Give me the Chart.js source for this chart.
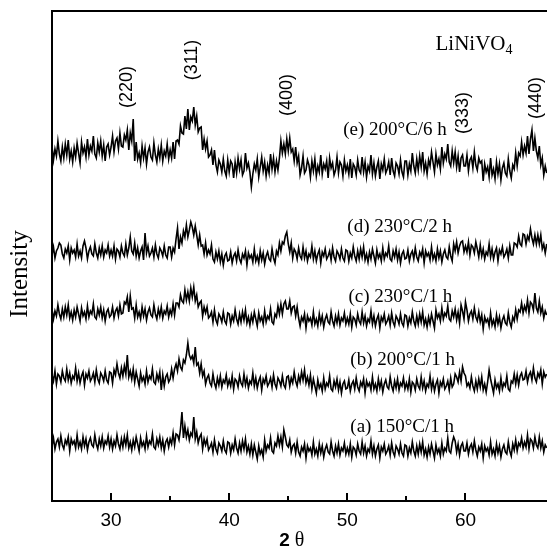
<!DOCTYPE html>
<html>
<head>
<meta charset="utf-8">
<script src="https://cdn.jsdelivr.net/npm/chart.js@4.4.1/dist/chart.umd.min.js"></script>
<style>
  html, body { margin: 0; padding: 0; background: #fff; overflow: hidden; }
  #wrap { width: 547px; height: 548px; position: relative; }
</style>
</head>
<body>
<div id="wrap"><canvas id="xrdChart"></canvas></div>
<script>
// 2θ sampling grid (degrees)
const THETA_START = 25;
const THETA_STEP = 0.125;

const X_TICKS = [30, 40, 50, 60];
const X_MINOR = [35, 45, 55];

// intensities (a.u., patterns stacked), one line = 2.5°
const patternE = [
  355,341,352,345,360,347,340,354,343,357,346,361,342,350,339,353,344,358,348,338,
  359,348,354,344,362,346,355,350,365,347,343,358,349,360,345,356,340,354,357,346,
  354,365,349,360,363,352,368,355,354,366,361,371,351,368,360,382,340,359,342,348,
  338,355,343,353,337,349,354,344,341,358,346,339,352,343,356,340,350,345,357,342,
  351,343,359,342,360,361,357,375,368,367,385,372,392,371,384,380,394,376,385,369,
  373,374,351,362,352,360,344,346,351,336,351,336,329,341,337,329,342,330,325,341,
  329,340,337,323,339,328,343,332,341,326,330,348,333,338,329,314,327,337,331,342,
  324,334,344,330,339,325,336,328,347,332,343,329,340,331,343,360,348,357,347,362,
  350,363,349,352,340,354,338,345,326,333,345,328,331,341,336,324,340,330,342,325,
  335,329,346,327,337,332,340,323,343,333,338,326,331,344,328,339,336,325,341,330,
  336,327,342,323,337,334,326,341,331,328,344,329,339,324,335,330,346,327,338,325,
  334,340,322,337,331,342,328,332,339,326,343,330,325,338,335,327,341,329,324,340,
  340,326,337,330,348,335,328,342,331,345,334,349,330,338,327,341,335,349,339,329,
  347,336,342,332,354,338,347,342,357,339,335,350,338,349,334,345,329,343,346,335,
  335,346,330,341,344,333,349,336,331,343,338,340,320,337,329,334,324,343,326,332,
  322,339,327,337,321,333,338,328,325,342,330,323,336,332,348,335,348,345,359,346,
  355,348,365,347,362,371,350,363,350,343,355,336,343,326,335,328
];
const patternD = [
  246,254,243,250,253,258,256,247,243,252,248,255,241,253,248,251,244,257,245,250,
  243,255,260,253,242,250,254,247,245,257,248,243,253,246,255,244,251,248,256,245,
  251,245,255,242,252,250,244,255,248,245,257,246,253,264,250,247,258,245,253,243,
  250,254,241,268,248,255,245,248,253,244,256,247,243,253,250,245,255,246,243,254,
  254,244,253,249,262,273,252,264,258,270,264,276,264,271,279,274,266,275,266,256,
  266,255,256,247,258,246,251,247,256,242,239,249,242,250,239,247,236,245,248,240,
  241,249,238,245,248,240,251,242,238,247,243,250,236,248,243,246,239,252,240,245,
  238,250,241,248,237,245,249,242,240,252,243,238,250,246,258,250,259,257,265,269,
  257,249,258,243,252,249,242,253,245,242,254,243,250,240,247,244,255,242,250,240,
  247,251,238,249,245,252,242,245,250,241,253,244,240,250,247,242,252,243,240,251,
  250,240,248,243,254,245,240,250,242,252,244,254,241,247,239,249,242,252,245,238,
  251,243,247,240,253,242,248,245,255,242,240,250,244,252,241,249,238,247,250,242,
  243,251,240,247,250,242,253,244,240,249,245,252,238,250,245,248,241,254,242,247,
  240,252,243,250,239,247,251,244,242,254,245,240,257,250,259,248,255,259,260,249,
  255,249,259,246,256,254,248,259,252,244,256,245,252,242,249,246,257,244,252,242,
  249,253,240,251,247,254,244,247,252,243,255,246,246,258,257,254,265,257,255,267,
  266,257,265,261,272,263,257,266,257,266,257,266,252,257,248,257
];
const patternC = [
  192,182,190,185,196,187,182,192,184,194,186,196,183,189,181,191,184,194,187,180,
  193,185,189,182,195,184,190,187,197,184,182,192,186,194,183,191,180,189,192,184,
  186,194,183,190,193,185,196,187,188,199,197,204,189,205,192,193,183,196,184,189,
  182,194,185,192,181,189,193,186,184,196,187,182,192,185,194,183,190,187,195,184,
  191,186,197,186,198,198,194,206,200,198,211,201,209,200,213,204,214,200,206,194,
  198,200,185,194,188,194,183,185,189,179,191,181,177,187,184,179,189,180,177,188,
  187,177,185,180,191,182,177,187,179,189,181,191,178,184,176,186,179,189,182,175,
  188,180,184,177,190,179,185,182,192,179,177,187,184,195,187,197,187,197,200,192,
  192,200,188,194,195,185,194,183,175,184,180,187,173,185,180,183,176,189,177,182,
  175,187,178,185,174,182,186,179,177,189,180,175,185,178,187,176,183,180,188,177,
  183,177,187,174,184,182,176,187,180,177,189,178,185,175,182,179,190,177,185,175,
  182,186,173,184,180,187,177,180,185,176,188,179,175,185,182,177,187,178,175,186,
  185,175,183,178,189,180,175,185,177,187,179,189,176,182,174,184,177,187,180,173,
  191,183,187,180,193,182,188,185,195,182,180,190,184,192,181,189,178,196,190,182,
  199,191,180,187,190,182,193,184,180,189,179,186,172,184,179,182,175,188,176,181,
  174,186,177,184,173,181,185,178,176,188,179,174,184,180,191,182,191,189,198,188,
  195,190,201,188,199,197,191,208,193,189,200,188,194,183,190,186
];
const patternB = [
  126,120,130,117,127,125,119,130,123,120,132,121,128,118,125,122,133,120,128,118,
  125,129,116,127,123,130,120,123,128,119,131,122,118,128,125,120,130,121,118,129,
  128,118,131,126,137,128,123,133,125,135,127,146,124,130,122,132,119,129,122,115,
  128,120,124,117,130,119,125,122,132,119,117,127,121,129,111,126,115,124,127,119,
  122,132,123,132,137,130,142,134,131,141,138,146,158,146,142,145,138,154,136,138,
  128,137,125,130,117,123,126,118,115,127,118,113,123,116,125,114,121,118,126,115,
  121,115,125,112,122,120,114,125,118,115,127,116,123,113,120,117,128,115,123,113,
  120,124,111,122,118,125,115,118,123,114,126,117,113,123,120,115,125,116,113,124,
  125,115,123,118,129,120,115,125,119,129,121,131,118,124,116,126,112,122,115,108,
  121,113,117,110,123,112,118,115,125,112,110,120,114,122,111,119,108,117,120,112,
  113,121,110,117,120,112,123,114,110,119,115,122,108,120,115,118,111,124,112,117,
  110,122,113,120,109,117,121,114,112,124,115,110,120,113,122,111,118,115,123,112,
  118,112,122,109,119,117,111,122,115,112,124,113,120,110,117,114,125,112,120,110,
  117,121,108,119,115,122,112,115,120,111,123,114,117,127,124,119,129,120,134,128,
  125,115,118,113,124,115,110,120,112,122,114,124,111,117,109,119,131,122,115,108,
  121,113,117,110,123,112,118,115,125,112,110,120,118,127,117,126,116,125,128,121,
  122,130,119,126,129,121,133,123,119,128,124,131,117,129,124,127
];
const patternA = [
  55,63,52,59,62,54,65,56,52,61,57,64,50,62,57,60,53,66,54,59,
  52,64,55,62,51,59,63,56,54,66,57,52,62,55,64,53,60,57,65,54,
  62,52,60,55,66,57,52,62,54,64,56,66,53,59,51,61,54,64,57,50,
  63,55,59,52,65,54,60,57,67,54,52,62,56,64,53,61,50,59,62,54,
  62,57,68,56,67,66,61,72,89,63,75,64,71,61,68,65,84,62,69,58,
  64,67,52,62,56,62,51,54,58,49,61,52,48,58,55,50,60,51,48,59,
  58,48,56,51,62,53,48,58,50,60,52,62,49,55,47,57,46,56,49,42,
  55,47,51,44,61,50,56,53,63,50,48,58,55,65,56,64,54,71,64,56,
  54,61,49,55,57,48,59,49,45,54,50,57,43,55,50,53,46,59,47,52,
  45,57,48,55,44,52,56,49,47,59,50,45,55,48,57,46,53,50,58,47,
  53,47,57,44,54,52,46,57,50,47,59,48,55,45,52,49,60,47,55,45,
  52,56,43,54,50,57,47,50,55,46,58,49,45,55,52,47,57,48,45,56,
  55,45,53,48,59,50,45,55,47,57,49,59,46,52,44,54,47,57,50,43,
  56,48,52,45,58,47,53,50,63,50,48,58,64,60,49,57,46,55,58,50,
  50,58,47,54,57,49,60,51,45,54,50,57,43,55,50,53,46,59,47,52,
  45,57,48,55,44,52,56,49,47,59,50,45,57,51,61,50,58,55,63,53,
  59,54,66,52,62,60,53,64,56,53,64,53,60,49,56,53
];

const patterns = [patternE, patternD, patternC, patternB, patternA];

const sampleLabels = ['(e) 200°C/6 h', '(d) 230°C/2 h', '(c) 230°C/1 h', '(b) 200°C/1 h', '(a) 150°C/1 h'];
const sampleLabelPos = [[49.65, 371], [50.0, 274], [50.1, 204], [50.25, 141], [50.25, 74]];

const peakLabels = ['(220)', '(311)', '(400)', '(333)', '(440)'];
const peakLabelPos = [[31.36, 414], [36.86, 441], [44.9, 406], [59.83, 388], [65.93, 403]];

function toPoints(vals) {
  return vals.map((v, i) => ({ x: THETA_START + i * THETA_STEP, y: v }));
}

const serif = "'Liberation Serif','Times New Roman',serif";
const sans = "'Liberation Sans',Arial,sans-serif";

const decorations = {
  id: 'decorations',
  afterDraw(chart) {
    const { ctx, chartArea: a, scales: { x, y } } = chart;
    ctx.save();
    ctx.strokeStyle = '#000';
    ctx.fillStyle = '#000';
    ctx.lineWidth = 2;
    ctx.beginPath();
    ctx.moveTo(a.right + 2, a.top);
    ctx.lineTo(a.left, a.top);
    ctx.lineTo(a.left, a.bottom);
    ctx.lineTo(a.right + 2, a.bottom);
    X_TICKS.forEach(v => { const px = Math.round(x.getPixelForValue(v)); ctx.moveTo(px, a.bottom); ctx.lineTo(px, a.bottom - 8); });
    X_MINOR.forEach(v => { const px = Math.round(x.getPixelForValue(v)); ctx.moveTo(px, a.bottom); ctx.lineTo(px, a.bottom - 5); });
    ctx.stroke();

    // (hkl) labels, rotated
    ctx.font = '18px ' + sans;
    ctx.textAlign = 'center'; ctx.textBaseline = 'middle';
    peakLabels.forEach((t, i) => {
      const [tx, ty] = peakLabelPos[i];
      ctx.save();
      ctx.translate(x.getPixelForValue(tx), y.getPixelForValue(ty));
      ctx.rotate(-Math.PI / 2);
      ctx.fillText(t, 0, 0);
      ctx.restore();
    });

    // sample labels
    ctx.font = '19px ' + serif;
    ctx.textAlign = 'left';
    sampleLabels.forEach((t, i) => {
      const [tx, ty] = sampleLabelPos[i];
      ctx.fillText(t, x.getPixelForValue(tx), y.getPixelForValue(ty));
    });

    // compound name with subscript
    const nx = x.getPixelForValue(57.46), ny = y.getPixelForValue(457);
    ctx.font = '21px ' + serif;
    ctx.fillText('LiNiVO', nx, ny);
    const w = ctx.measureText('LiNiVO').width;
    ctx.font = '14px ' + serif;
    ctx.fillText('4', nx + w, ny + 6);

    // y title
    ctx.font = '25px ' + serif;
    ctx.textAlign = 'center';
    ctx.save();
    ctx.translate(20, (a.top + a.bottom) / 2 + 18);
    ctx.rotate(-Math.PI / 2);
    ctx.fillText('Intensity', 0, 0);
    ctx.restore();

    // x title: bold 2, serif theta
    const cx = x.getPixelForValue(45.3), cy = 541;
    ctx.font = 'bold 19px ' + sans;
    ctx.textAlign = 'right';
    ctx.fillText('2', cx - 2, cy);
    ctx.font = '20px ' + serif;
    ctx.textAlign = 'left';
    ctx.fillText('θ', cx + 3, cy);
    ctx.restore();
  }
};

new Chart(document.getElementById('xrdChart'), {
  type: 'line',
  data: {
    datasets: patterns.map(p => ({
      data: toPoints(p),
      borderColor: '#000', borderWidth: 1.6,
      pointRadius: 0, tension: 0, fill: false
    }))
  },
  options: {
    responsive: true, maintainAspectRatio: false,
    animation: false,
    layout: { padding: { left: 52, top: 11, right: 0, bottom: 0 } },
    plugins: { legend: { display: false }, tooltip: { enabled: false } },
    scales: {
      x: {
        type: 'linear', min: 25, max: 66.9,
        grid: { display: false, drawTicks: false },
        border: { display: false },
        afterBuildTicks: s => { s.ticks = X_TICKS.map(v => ({ value: v })); },
        afterFit: s => { s.height = 47; },
        ticks: { color: '#000', padding: 8, font: { family: sans, size: 19 } }
      },
      y: { display: false, min: 0, max: 490 }
    }
  },
  plugins: [decorations]
});
</script>
</body>
</html>
